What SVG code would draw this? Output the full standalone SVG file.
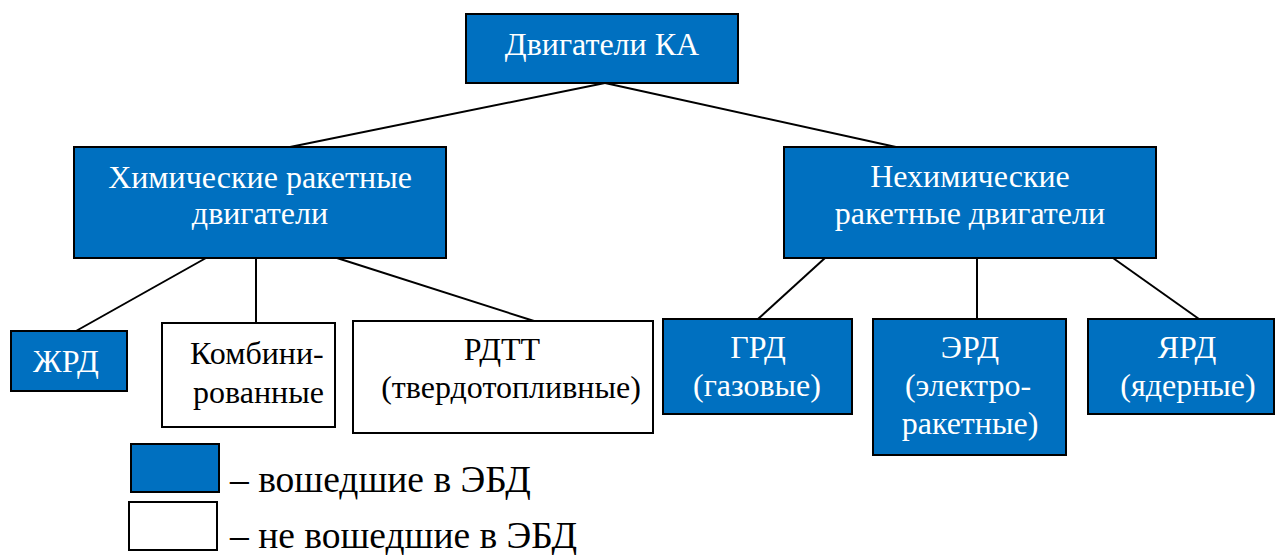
<svg xmlns="http://www.w3.org/2000/svg" width="1276" height="555" viewBox="0 0 1276 555">
<style>
.b{fill:#0070C0;stroke:#000;stroke-width:2}
.w{fill:#fff;stroke:#000;stroke-width:2}
.t{font-size:32px;text-anchor:middle}
.tw{fill:#fff}
.tk{fill:#000}
.lg{font-size:37.5px;fill:#000}
.c{stroke:#000;stroke-width:2;fill:none}
</style>
<rect width="1276" height="555" fill="#fff"/>
<g id="connectors">
<line class="c" x1="605" y1="83" x2="290" y2="147"/>
<line class="c" x1="605" y1="83" x2="896" y2="147"/>
<line class="c" x1="206" y1="258" x2="76" y2="331"/>
<line class="c" x1="256" y1="258" x2="256" y2="323"/>
<line class="c" x1="337" y1="258" x2="534" y2="321"/>
<line class="c" x1="825" y1="258" x2="758" y2="319"/>
<line class="c" x1="977" y1="258" x2="977" y2="319"/>
<line class="c" x1="1113" y1="258" x2="1199" y2="319"/>
</g>
<g font-family="Liberation Serif, DejaVu Serif, serif">
<g id="root">
<rect class="b" x="466" y="14" width="272" height="69"/>
<text class="t tw" x="602" y="55">Двигатели КА</text>
</g>
<g id="chem">
<rect class="b" x="74" y="147" width="372" height="111"/>
<text class="t tw" x="260" y="188">Химические ракетные</text>
<text class="t tw" x="260" y="224">двигатели</text>
</g>
<g id="nonchem">
<rect class="b" x="784" y="147" width="372" height="111"/>
<text class="t tw" x="970" y="187">Нехимические</text>
<text class="t tw" x="970" y="224">ракетные двигатели</text>
</g>
<g id="zhrd">
<rect class="b" x="11" y="331" width="116" height="60"/>
<text class="t tw" x="66" y="372">ЖРД</text>
</g>
<g id="komb">
<rect class="w" x="162" y="323" width="173" height="104"/>
<text class="t tk" x="190" y="364" style="text-anchor:start">Комбини-</text>
<text class="t tk" x="193" y="403" style="text-anchor:start">рованные</text>
</g>
<g id="rdtt">
<rect class="w" x="353" y="321" width="300" height="112"/>
<text class="t tk" x="502" y="360">РДТТ</text>
<text class="t tk" x="511" y="398">(твердотопливные)</text>
</g>
<g id="grd">
<rect class="b" x="663" y="319" width="189" height="95"/>
<text class="t tw" x="758" y="358">ГРД</text>
<text class="t tw" x="757" y="396">(газовые)</text>
</g>
<g id="erd">
<rect class="b" x="873" y="319" width="193" height="136"/>
<text class="t tw" x="970" y="358">ЭРД</text>
<text class="t tw" x="968" y="396">(электро-</text>
<text class="t tw" x="970" y="434">ракетные)</text>
</g>
<g id="yard">
<rect class="b" x="1088" y="319" width="186" height="95"/>
<text class="t tw" x="1187" y="358">ЯРД</text>
<text class="t tw" x="1188" y="396">(ядерные)</text>
</g>
<g id="legend">
<rect class="b" x="131" y="444" width="88" height="48"/>
<rect class="w" x="129" y="502" width="88" height="48"/>
<text class="lg" x="230" y="492">– вошедшие в ЭБД</text>
<text class="lg" x="230" y="548">– не вошедшие в ЭБД</text>
</g>
</g>
</svg>
